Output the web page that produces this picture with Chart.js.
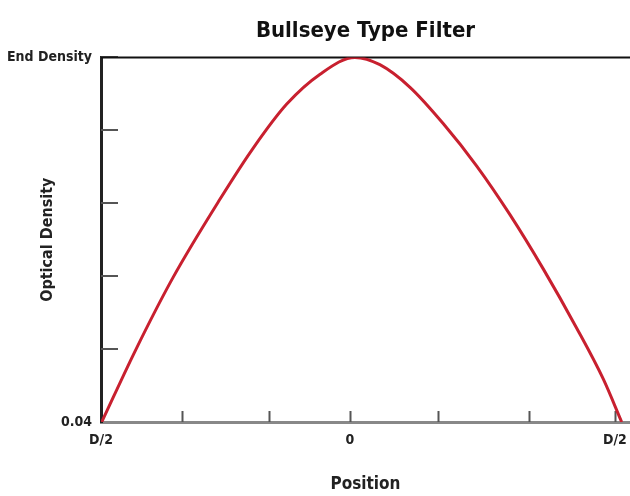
<!DOCTYPE html>
<html lang="en">
<head>
    <meta charset="UTF-8">
    <title>Bullseye Type Filter</title>
    <script src="https://cdn.jsdelivr.net/npm/chart.js"></script>
    <style>
        html, body { margin: 0; padding: 0; background: #fff; }
        #wrap { width: 630px; height: 496px; }
    </style>
</head>
<body>
    <div id="wrap"><canvas id="filterChart"></canvas></div>

    <script>
        // values (x: -1 = left edge D/2, 0 = centre)
        const positions = [-0.997, -0.862, -0.711, -0.525, -0.388, -0.254, -0.12, 0.02, 0.12, 0.241, 0.375, 0.509, 0.643, 0.776, 0.91, 1.017, 1.091];
        const density = [0, 0.98, 1.98, 3.04, 3.76, 4.36, 4.77, 5, 4.9, 4.59, 4.09, 3.51, 2.84, 2.1, 1.29, 0.59, 0];

        const xTicks = [-1, -0.676, -0.325, 0, 0.353, 0.719, 1.064];
        const xTickLabels = ['D/2', '', '', '0', '', '', 'D/2'];
        const yTickLabels = ['0.04', '', '', '', '', 'End Density'];

        const FONT = "'DejaVu Sans Condensed', 'Liberation Sans Narrow', sans-serif";

        // tick marks point inward, plus the black line along the top
        const innerTicks = {
            id: 'innerTicks',
            beforeDatasetsDraw(chart) {
                const { ctx, chartArea: a, scales: { x, y } } = chart;
                ctx.save();
                ctx.lineWidth = 2;
                ctx.strokeStyle = '#555';
                x.ticks.forEach((t, i) => {
                    if (i === 0) return;
                    const px = Math.round(x.getPixelForValue(t.value)) + 0.5;
                    ctx.beginPath();
                    ctx.moveTo(px, a.bottom);
                    ctx.lineTo(px, a.bottom - 11);
                    ctx.stroke();
                });
                y.ticks.forEach((t, i) => {
                    if (i === 0) return;
                    const py = Math.round(y.getPixelForValue(t.value));
                    ctx.beginPath();
                    ctx.moveTo(a.left, py);
                    ctx.lineTo(a.left + 17, py);
                    ctx.stroke();
                });
                ctx.strokeStyle = '#111';
                ctx.beginPath();
                ctx.moveTo(a.left, a.top);
                ctx.lineTo(a.right, a.top);
                ctx.stroke();
                ctx.restore();
            }
        };

        new Chart(document.getElementById('filterChart'), {
            type: 'line',
            data: {
                datasets: [{
                    data: positions.map((p, i) => ({ x: p, y: density[i] })),
                    borderColor: '#c8202f',
                    borderWidth: 3,
                    pointRadius: 0,
                    cubicInterpolationMode: 'monotone',
                    fill: false
                }]
            },
            options: {
                responsive: true,
                maintainAspectRatio: false,
                animation: false,
                layout: { padding: 0 },
                plugins: {
                    legend: { display: false },
                    tooltip: { enabled: false },
                    title: {
                        display: true,
                        text: 'Bullseye Type Filter',
                        fullSize: false,
                        color: '#111',
                        font: { family: FONT, size: 22, weight: 'bold', lineHeight: 1.2 },
                        padding: { top: 18, bottom: 13 }
                    }
                },
                scales: {
                    x: {
                        type: 'linear',
                        min: -1,
                        max: 1.1245,
                        afterBuildTicks: scale => {
                            scale.ticks = xTicks.map(v => ({ value: v }));
                        },
                        afterFit: scale => {
                            scale.height = 74;
                            scale.paddingRight = 0;
                        },
                        grid: { display: false, drawTicks: false },
                        border: { color: '#888', width: 3 },
                        ticks: {
                            color: '#222',
                            padding: 10,
                            maxRotation: 0,
                            autoSkip: false,
                            font: { family: FONT, size: 14, weight: 'bold' },
                            callback: (v, i) => xTickLabels[i]
                        },
                        title: {
                            display: true,
                            text: 'Position',
                            color: '#222',
                            font: { family: FONT, size: 17, weight: 'bold', lineHeight: 1.2 },
                            padding: { top: 0, bottom: 1 }
                        }
                    },
                    y: {
                        min: 0,
                        max: 5,
                        afterFit: scale => {
                            scale.width = 101;
                        },
                        grid: { display: false, drawTicks: false },
                        border: { color: '#222', width: 3 },
                        ticks: {
                            stepSize: 1,
                            color: '#222',
                            padding: 9,
                            font: { family: FONT, size: 14, weight: 'bold' },
                            callback: (v, i) => yTickLabels[i]
                        },
                        title: {
                            display: true,
                            text: 'Optical Density',
                            color: '#222',
                            font: { family: FONT, size: 16, weight: 'bold', lineHeight: 1.2 },
                            padding: { top: 38, bottom: 0 }
                        }
                    }
                }
            },
            plugins: [innerTicks]
        });
    </script>
</body>
</html>
